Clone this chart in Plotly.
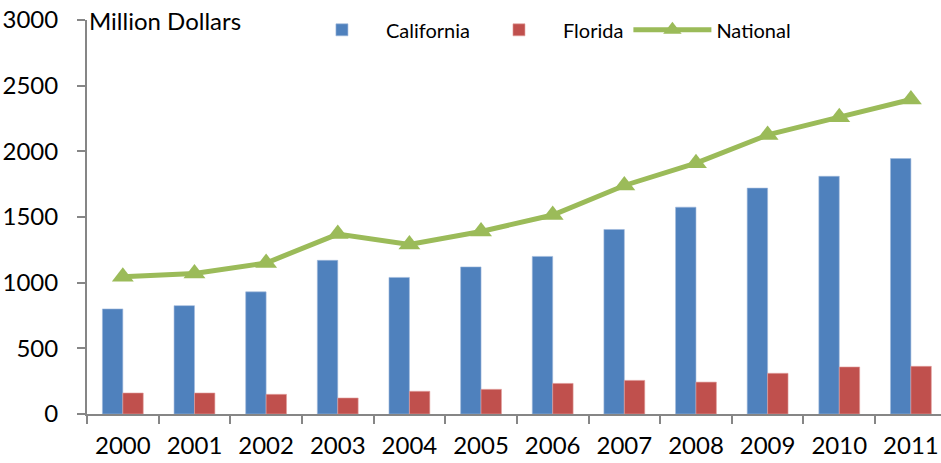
import plotly.graph_objects as go

years = ["2000", "2001", "2002", "2003", "2004", "2005",
         "2006", "2007", "2008", "2009", "2010", "2011"]
california = [800, 825, 930, 1170, 1040, 1120, 1200, 1405, 1575, 1720, 1810, 1945]
florida = [160, 160, 150, 122, 173, 188, 233, 256, 243, 310, 358, 363]
national = [1045, 1070, 1150, 1370, 1290, 1390, 1515, 1740, 1910, 2125, 2260, 2395]

blue = "#4F81BD"
red = "#C0504D"
green = "#9BBB59"
axis_grey = "#868686"
font_family = "Lato, 'Open Sans', sans-serif"

fig = go.Figure()
fig.add_trace(go.Bar(x=years, y=california, name="California",
                     marker=dict(color=blue, line=dict(color="#9FB9DB", width=0.6))))
fig.add_trace(go.Bar(x=years, y=florida, name="Florida",
                     marker=dict(color=red, line=dict(color="#E2A09E", width=0.6))))
fig.add_trace(go.Scatter(x=years, y=national, name="National", mode="lines+markers",
                         line=dict(color=green, width=5),
                         marker=dict(symbol="triangle-up", size=19, color=green)))

fig.update_layout(
    width=941, height=463,
    margin=dict(l=87, r=0, t=20, b=49, autoexpand=False),
    paper_bgcolor="white", plot_bgcolor="white",
    font=dict(family=font_family, size=24, color="black"),
    barmode="group", bargap=0.43, bargroupgap=0,
    showlegend=True,
    legend=dict(orientation="h", x=0.247, y=0.975, xanchor="left", yanchor="middle",
                font=dict(size=20), bgcolor="rgba(0,0,0,0)", traceorder="normal",
                itemwidth=78),
    annotations=[dict(text="Million Dollars", xref="paper", yref="paper",
                      x=0.0, y=1.0, xanchor="left", yanchor="middle",
                      showarrow=False, font=dict(size=24))],
)
fig.update_xaxes(
    type="category", range=[-0.5, 11.42], automargin=False,
    showline=True, linecolor=axis_grey, linewidth=2,
    ticks="outside", tickson="boundaries", ticklen=8, tickcolor=axis_grey, tickwidth=1.5,
    showgrid=False, tickfont=dict(size=24), ticklabelstandoff=9,
)
fig.update_yaxes(
    range=[0, 3000], dtick=500, automargin=False,
    showline=True, linecolor=axis_grey, linewidth=2,
    ticks="outside", ticklen=8, tickcolor=axis_grey, tickwidth=1.5,
    showgrid=False, zeroline=False, tickfont=dict(size=24), ticklabelstandoff=14,
)

# drop the default 8px body margin so the figure fills the window
fig.write_html("out.html", config={"displayModeBar": False},
               post_script="document.body.style.margin = '0';")
